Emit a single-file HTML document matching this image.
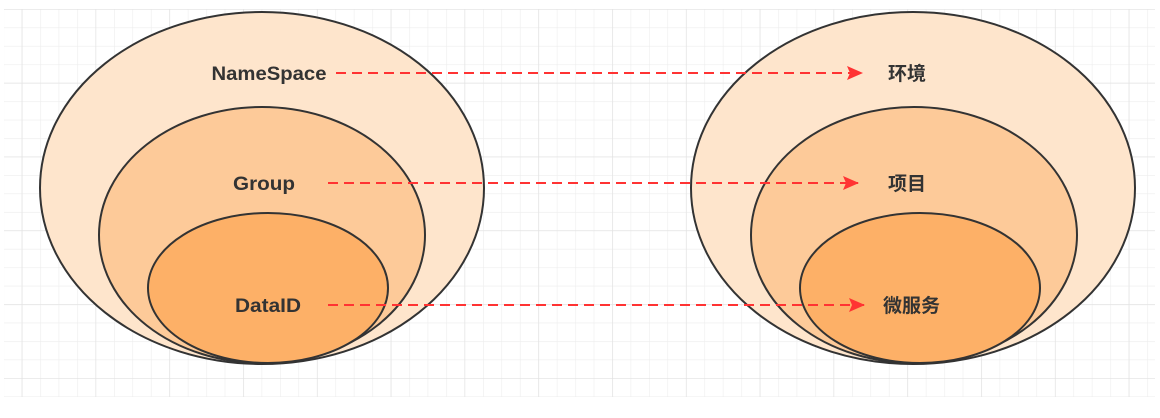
<!DOCTYPE html>
<html><head><meta charset="utf-8"><style>
html,body{margin:0;padding:0;background:#fff;width:1160px;height:418px;overflow:hidden}
text{font-family:"Liberation Sans","Noto Sans CJK SC",sans-serif;font-weight:bold;font-size:19px;fill:#333}
</style></head><body>
<svg width="1160" height="418" viewBox="0 0 1160 418">
<defs>
<pattern id="g" x="3.3" y="9" width="18.45" height="18.45" patternUnits="userSpaceOnUse">
<path d="M0 0H18.45M0 0V18.45" stroke="#ededed" stroke-width="1.2" fill="none"/></pattern>
<pattern id="G" x="21.7" y="9" width="73.8" height="73.8" patternUnits="userSpaceOnUse">
<path d="M0 0H73.8M0 0V73.8" stroke="#e2e2e2" stroke-width="1.3" fill="none"/></pattern>
<marker id="ah" markerWidth="16" markerHeight="14" refX="15" refY="7" orient="auto" markerUnits="userSpaceOnUse"><path d="M0 0L16 7L0 14L3 7z" fill="#ff3333"/></marker>
</defs>
<rect x="4" y="9" width="1151" height="388" fill="url(#g)"/>
<rect x="4" y="9" width="1151" height="388" fill="url(#G)"/>
<g stroke="#333" stroke-width="2">
<ellipse cx="262" cy="188" rx="222" ry="176" fill="#fee5cc"/>
<ellipse cx="262" cy="235" rx="163" ry="128" fill="#fdca99"/>
<ellipse cx="268" cy="288" rx="120" ry="75" fill="#fdb067"/>
<ellipse cx="913" cy="188" rx="222" ry="176" fill="#fee5cc"/>
<ellipse cx="914" cy="235" rx="163" ry="128" fill="#fdca99"/>
<ellipse cx="920" cy="288" rx="120" ry="75" fill="#fdb067"/>
</g>
<g stroke="#ff3333" stroke-width="2" stroke-dasharray="10 6" marker-end="url(#ah)">
<line x1="336" y1="73" x2="862" y2="73"/>
<line x1="328" y1="183" x2="858" y2="183"/>
<line x1="328" y1="305" x2="864" y2="305"/>
</g>
<text x="269" y="80" text-anchor="middle" textLength="115" lengthAdjust="spacingAndGlyphs">NameSpace</text>
<text x="264" y="190" text-anchor="middle" textLength="62" lengthAdjust="spacingAndGlyphs">Group</text>
<text x="268" y="312" text-anchor="middle" textLength="66" lengthAdjust="spacingAndGlyphs">DataID</text>
<text x="888" y="80">环境</text>
<text x="888" y="190">项目</text>
<text x="883" y="312">微服务</text>
</svg>
</body></html>
